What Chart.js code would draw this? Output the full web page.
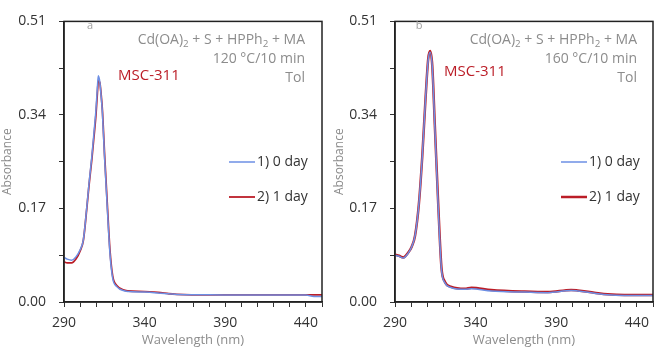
<!DOCTYPE html>
<html>
<head>
<meta charset="utf-8">
<script src="https://cdn.jsdelivr.net/npm/chart.js@4.4.0/dist/chart.umd.min.js"></script>
<style>
  html, body { margin: 0; padding: 0; background: #fff; }
  .wrap { position: absolute; top: 0; width: 332px; height: 348px; }
  #boxA { left: 0; }
  #boxB { left: 332px; }
</style>
</head>
<body>
<div class="wrap" id="boxA"><canvas id="chartA" width="332" height="348"></canvas></div>
<div class="wrap" id="boxB"><canvas id="chartB" width="332" height="348"></canvas></div>
<script>
// panel a : 120 C / 10 min
const wlA = [290, 292, 294.7, 297.4, 300, 302, 304.1, 305.5, 307.2, 308.5, 309.8, 310.7, 311.3, 312.2, 313, 313.8, 315.2, 316.9, 318.5, 320.2, 322.7, 327.8, 330, 340, 346, 350, 355, 360, 380, 400, 420, 440, 445, 450];
const a0day = [0.081, 0.078, 0.076, 0.082, 0.095, 0.113, 0.171, 0.215, 0.263, 0.305, 0.349, 0.390, 0.411, 0.400, 0.375, 0.345, 0.260, 0.168, 0.088, 0.043, 0.028, 0.020, 0.019, 0.018, 0.017, 0.016, 0.015, 0.0135, 0.013, 0.0125, 0.0125, 0.0125, 0.010, 0.010];
const a1day = [0.073, 0.071, 0.071, 0.078, 0.093, 0.112, 0.169, 0.212, 0.258, 0.298, 0.340, 0.380, 0.402, 0.399, 0.378, 0.349, 0.266, 0.175, 0.094, 0.047, 0.030, 0.021, 0.020, 0.019, 0.018, 0.017, 0.015, 0.014, 0.013, 0.013, 0.013, 0.013, 0.013, 0.013];

// panel b : 160 C / 10 min
const wlB = [290, 292.5, 295.2, 298, 300.3, 302.4, 304.8, 306.9, 309, 310.6, 311.8, 313.1, 314.7, 316.8, 318.8, 320.9, 325, 333.3, 337.4, 349.7, 370.3, 384.8, 399.2, 403.3, 413.6, 421.9, 432.2, 450];
const b0day = [0.085, 0.083, 0.080, 0.088, 0.100, 0.120, 0.178, 0.264, 0.373, 0.440, 0.454, 0.428, 0.318, 0.172, 0.060, 0.035, 0.026, 0.023, 0.024, 0.020, 0.018, 0.017, 0.021, 0.020, 0.016, 0.013, 0.012, 0.012];
const b1day = [0.086, 0.084, 0.081, 0.089, 0.100, 0.120, 0.178, 0.264, 0.373, 0.442, 0.456, 0.430, 0.321, 0.178, 0.063, 0.037, 0.0275, 0.024, 0.026, 0.022, 0.019, 0.018, 0.022, 0.021, 0.017, 0.014, 0.0126, 0.0126];

const seriesNames = ['1) 0 day', '2) 1 day'];
const xMajor = [290, 340, 390, 440];
const yMajor = [0, 0.17, 0.34, 0.51];
const xRange = [290, 450];
const yRange = [0, 0.51];

const BLUE = '#6d8fe4';
const RED = '#bb1d27';
const GRAY = '#8c8c8c';
const FONT = "'Open Sans', 'Noto Sans', sans-serif";

function pts(xs, ys) {
  return xs.map((x, i) => ({ x: x, y: ys[i] }));
}

// right aligned text with subscripts
function drawRuns(ctx, runs, xRight, y, size) {
  let total = 0;
  runs.forEach(r => {
    ctx.font = (r.sub ? size * 0.7 : size) + 'px ' + FONT;
    r.w = ctx.measureText(r.t).width;
    total += r.w;
  });
  let x = xRight - total;
  ctx.textAlign = 'left';
  runs.forEach(r => {
    ctx.font = (r.sub ? size * 0.7 : size) + 'px ' + FONT;
    ctx.fillText(r.t, x, r.sub ? y + 4 : y);
    x += r.w;
  });
}

const decor = {
  id: 'decor',
  afterDraw(chart, args, opts) {
    const ctx = chart.ctx;
    const a = chart.chartArea;
    ctx.save();
    // frame
    ctx.strokeStyle = '#222';
    ctx.lineWidth = 1.5;
    ctx.strokeRect(a.left, a.top, a.right - a.left, a.bottom - a.top);

    ctx.textBaseline = 'middle';
    ctx.fillStyle = '#a0a0a0';
    ctx.font = '11px ' + FONT;
    ctx.textAlign = 'center';
    ctx.fillText(opts.letter, opts.letterX, 26);

    ctx.fillStyle = GRAY;
    drawRuns(ctx, [{ t: 'Cd(OA)' }, { t: '2', sub: true }, { t: ' + S + HPPh' }, { t: '2', sub: true }, { t: ' + MA' }], 305, 40, 14);
    ctx.font = '14px ' + FONT;
    ctx.textAlign = 'right';
    ctx.fillText(opts.temp, 305, 59);
    ctx.fillText('Tol', 305, 78);

    ctx.fillStyle = RED;
    ctx.textAlign = 'left';
    ctx.font = '15px ' + FONT;
    ctx.fillText('MSC-311', opts.mscX, opts.mscY);

    // legend
    const rows = [162, 197];
    chart.data.datasets.forEach((ds, i) => {
      ctx.strokeStyle = ds.borderColor;
      ctx.lineWidth = ds.borderWidth;
      ctx.beginPath();
      ctx.moveTo(229, rows[i]);
      ctx.lineTo(255, rows[i]);
      ctx.stroke();
      ctx.fillStyle = '#333';
      ctx.font = '14px ' + FONT;
      ctx.fillText(ds.label, 257, rows[i]);
    });
    ctx.restore();
  }
};

function makeChart(id, xs, s0, s1, redWidth, axisW, padRight, plugOpts) {
  const xTicks = [];
  for (let v = xRange[0]; v <= xRange[1]; v += 10) xTicks.push(v);
  const yTicks = [];
  for (let i = 0; i <= 6; i++) yTicks.push(+(i * 0.085).toFixed(3));

  return new Chart(document.getElementById(id).getContext('2d'), {
    type: 'line',
    data: {
      datasets: [
        { label: seriesNames[0], data: pts(xs, s0), borderColor: BLUE, borderWidth: 1.5, pointRadius: 0, cubicInterpolationMode: 'monotone' },
        { label: seriesNames[1], data: pts(xs, s1), borderColor: RED, borderWidth: redWidth, pointRadius: 0, cubicInterpolationMode: 'monotone' }
      ]
    },
    options: {
      responsive: false,
      animation: false,
      layout: { padding: { top: 7, right: padRight, left: 0, bottom: 0 } },
      plugins: {
        legend: { display: false },
        tooltip: { enabled: false },
        decor: plugOpts
      },
      scales: {
        x: {
          type: 'linear',
          min: xRange[0],
          max: xRange[1],
          afterBuildTicks: s => { s.ticks = xTicks.map(v => ({ value: v })); },
          afterFit: s => { s.height = 46; },
          ticks: {
            autoSkip: false,
            maxRotation: 0,
            padding: 8,
            color: '#333',
            font: { family: FONT, size: 14 },
            callback: v => xMajor.includes(v) ? String(v) : ''
          },
          grid: { drawOnChartArea: false, tickLength: 5, color: '#333' },
          border: { color: '#222', width: 1.5 },
          title: { display: true, text: 'Wavelength (nm)', color: GRAY, font: { family: FONT, size: 13 }, padding: 0 }
        },
        y: {
          min: yRange[0],
          max: yRange[1],
          afterBuildTicks: s => { s.ticks = yTicks.map(v => ({ value: v })); },
          afterFit: s => { s.width = axisW; },
          ticks: {
            autoSkip: false,
            padding: 13,
            color: '#333',
            font: { family: FONT, size: 14 },
            callback: v => yMajor.some(m => Math.abs(m - v) < 1e-6) ? v.toFixed(2) : ''
          },
          grid: { drawOnChartArea: false, tickLength: 5, color: '#333' },
          border: { color: '#222', width: 1.5 },
          title: { display: true, text: 'Absorbance', color: GRAY, font: { family: FONT, size: 12 }, padding: 0 }
        }
      }
    },
    plugins: [decor]
  });
}

makeChart('chartA', wlA, a0day, a1day, 1.8, 64, 10,
  { letter: 'a', letterX: 90, temp: '120 °C/10 min', mscX: 118, mscY: 76 });
makeChart('chartB', wlB, b0day, b1day, 2.5, 63, 11,
  { letter: 'b', letterX: 87, temp: '160 °C/10 min', mscX: 112, mscY: 72 });
</script>
</body>
</html>
